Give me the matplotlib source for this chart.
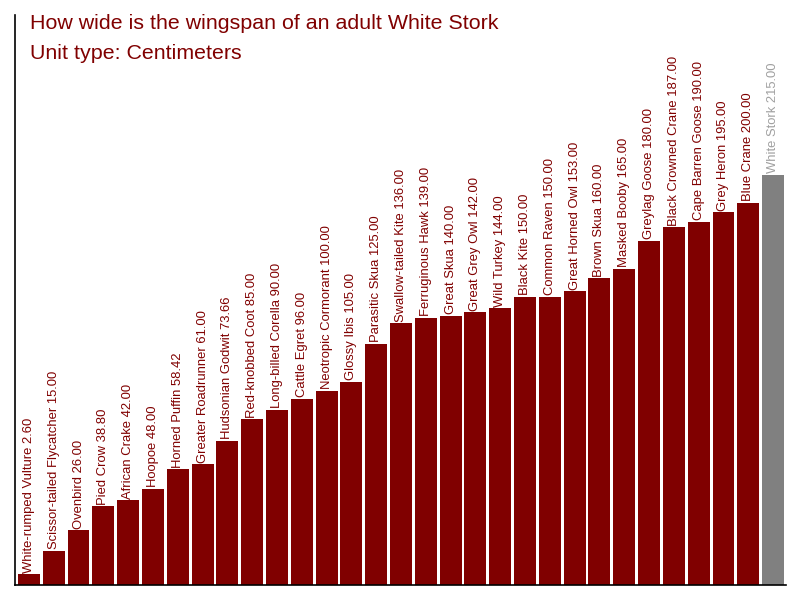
import matplotlib
matplotlib.use("Agg")
import matplotlib.pyplot as plt

birds = ["White-rumped Vulture", "Scissor-tailed Flycatcher", "Ovenbird", "Pied Crow",
         "African Crake", "Hoopoe", "Horned Puffin", "Greater Roadrunner", "Hudsonian Godwit",
         "Red-knobbed Coot", "Long-billed Corella", "Cattle Egret", "Neotropic Cormorant",
         "Glossy Ibis", "Parasitic Skua", "Swallow-tailed Kite", "Ferruginous Hawk",
         "Great Skua", "Great Grey Owl", "Wild Turkey", "Black Kite", "Common Raven",
         "Great Horned Owl", "Brown Skua", "Masked Booby", "Greylag Goose",
         "Black Crowned Crane", "Cape Barren Goose", "Grey Heron", "Blue Crane", "White Stork"]
wingspan = [2.60, 15.00, 26.00, 38.80, 42.00, 48.00, 58.42, 61.00, 73.66, 85.00, 90.00,
            96.00, 100.00, 105.00, 125.00, 136.00, 139.00, 140.00, 142.00, 144.00, 150.00,
            150.00, 153.00, 160.00, 165.00, 180.00, 187.00, 190.00, 195.00, 200.00, 215.00]
highlight = "White Stork"

plt.rcParams['font.family'] = ['Liberation Sans', 'DejaVu Sans']

fig = plt.figure(figsize=(8, 6), dpi=100)
ax = fig.add_axes([15/800, 15/600, (786-15)/800, 570/600])

ymin, ymax = -3.2, 300
xs = list(range(len(birds)))
colors = ["#808080" if b == highlight else "#800000" for b in birds]
ax.bar(xs, [v - ymin for v in wingspan], bottom=ymin, width=0.885, color=colors, linewidth=0)
for x, b, v in zip(xs, birds, wingspan):
    tc = "#a0a0a0" if b == highlight else "#800000"
    ax.text(x, v + 0.8, f"{b} {v:.2f}", rotation=90, ha='center', va='bottom',
            fontsize=9.4, color=tc)

ax.set_xlim(-0.56, len(birds) - 1 + 0.52)
ax.set_ylim(ymin, ymax)
for s in ['top', 'right']:
    ax.spines[s].set_visible(False)
ax.spines['left'].set_linewidth(1.2)
ax.spines['bottom'].set_linewidth(1.2)
ax.set_xticks([])
ax.set_yticks([])

fig.text(30/800, 1 - 29/600, "How wide is the wingspan of an adult White Stork",
         fontsize=15.4, color="#800000", va='baseline')
fig.text(30/800, 1 - 59/600, "Unit type: Centimeters",
         fontsize=15.4, color="#800000", va='baseline')

fig.savefig("out.png", dpi=100)
